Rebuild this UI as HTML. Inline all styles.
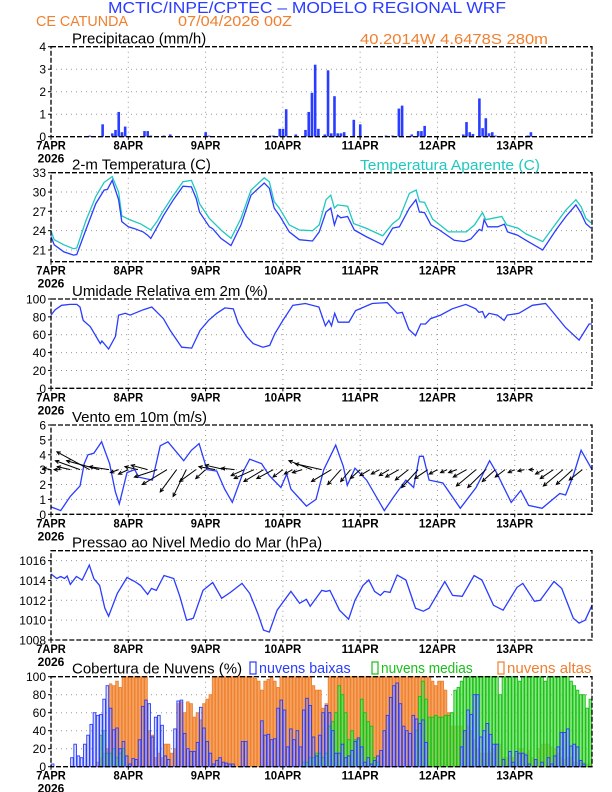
<!DOCTYPE html>
<html><head><meta charset="utf-8">
<style>
html,body{margin:0;padding:0;background:#fff;}
svg{display:block;font-family:"Liberation Sans",sans-serif;}
</style></head>
<body>
<svg id="chart" width="612" height="792" viewBox="0 0 612 792" xmlns="http://www.w3.org/2000/svg">
<text x="108" y="13" font-size="16" fill="#2a3cff" textLength="398" lengthAdjust="spacingAndGlyphs">MCTIC/INPE/CPTEC – MODELO REGIONAL WRF</text>
<text x="36" y="26" font-size="15" fill="#f08030" textLength="92" lengthAdjust="spacingAndGlyphs">CE CATUNDA</text>
<text x="178" y="26" font-size="15" fill="#f08030" textLength="114" lengthAdjust="spacingAndGlyphs">07/04/2026 00Z</text>
<text x="360" y="44" font-size="15" fill="#f08030" textLength="188" lengthAdjust="spacingAndGlyphs">40.2014W 4.6478S 280m</text>
<g id="root"></g>
</svg>
<script>
// ---------- data ----------
const dayLabels = ["7APR","8APR","9APR","10APR","11APR","12APR","13APR"];
const precipHours = [12,13,16,19,20,21,22,23,29,30,31,35,37,48,49,63,68,69,71,72,73,76,79,80,81,82,83,85,86,87,88,89,90,91,94,96,104,106,108,109,112,114,115,116,128,129,130,131,133,134,135,136,137,138,148,149];
const precipValues = [0.05,0.03,0.55,0.15,0.3,1.1,0.2,0.45,0.25,0.25,0.05,0.05,0.1,0.2,0.05,0.05,0.05,0.05,0.35,0.35,1.22,0.1,0.3,1.1,1.95,3.2,0.35,0.1,2.95,0.15,1.8,0.15,0.15,0.2,0.75,0.55,0.05,0.05,1.25,1.38,0.1,0.25,0.25,0.48,0.1,0.65,0.2,0.12,1.7,0.38,0.82,0.15,0.2,0.05,0.05,0.2];
const precipTicks = [0,1,2,3,4];

const tempHours = [0,1,4,7,8,10.8,13.9,16.5,17.5,19,21,22,24,26,28.6,30,31,33,35,38,41,43.6,45.1,46.1,49.2,50.2,52.8,55.9,59,62.1,66.2,67.8,69.3,70.9,74,77.1,81.2,83.3,85.4,86.9,88,89,90,92.1,94.2,97.8,103,106.1,108.2,111.3,113.3,114.4,116,118,120.6,125.2,128.3,130.4,133,133.8,134.5,135.6,138.7,140.8,141.8,144.9,147.5,152.7,156.8,159.9,163,164.6,166.1,167.7];
const tempValues = [23.1,21.8,20.7,20.2,20.3,24.1,28.2,30.3,30.4,31.8,28.8,25.4,24.6,24.3,23.8,23.3,22.8,24.6,26.4,28.8,30.9,30.8,29,26.9,24.6,24.3,22.8,21.7,24.9,29.5,31.4,30.6,27.5,26.4,23.8,22.6,22.4,23.8,26.9,27.5,24.9,26.4,26,26.2,24.1,23.1,21.8,24.4,24.6,27.5,28.8,26.9,26.8,24.9,24.1,22.5,22.3,22.7,24.2,24,25.7,24.6,24.6,25,23.8,23.3,22.5,21,24.1,26.2,28,26.7,25.1,24.4];
const appHours = [0,1,4,7,8,10.8,13.9,16.5,19,21,22,24,28,31,33,35,38,41,43.6,45.1,46.1,49.2,52.8,55.9,59,62.1,66.2,67.8,69.3,70.9,74,77.1,81.2,83.3,85.4,86.9,88,89,92.1,94,97.8,103,106.1,108.2,111.3,113.4,114.4,116,118.5,123.5,129,131.5,134,135,140,141.5,145,147.5,152.7,156.8,159.9,163,164.6,166.1,167.7];
const appValues = [24,22.6,21.8,21.2,21.3,25.5,29.3,31.5,32.4,30,26.3,25.8,25,24.1,25.5,27.2,29.5,31.6,31.8,30,28.2,25.9,24.1,22.8,25.9,30.3,32.2,31.6,28.5,27.5,24.9,24.1,24,24.9,28.8,29.5,27.5,28,27.8,25.1,24.4,23.2,25.1,25.9,29.8,30.3,28.5,28.4,25.8,23.8,23.8,24.9,26.8,25.7,26.2,24.9,24.4,23.5,22.3,25.1,27.2,28.8,27.7,25.9,25.2];
const tempTicks = [21,24,27,30,33];

const rhHours = [0,1.3,3.3,5.9,8,9,10,12.2,15.3,15.8,17.9,20,21,23.1,24.6,28.7,31.3,34.9,37,40.6,43.7,46.3,48.9,51.5,54,56.6,58.1,60.7,62.8,65.8,67.9,69.5,72,75.1,79,83.2,85.2,86.3,87.1,88.1,89.2,92.5,94.6,99.7,104.4,107.5,109.1,111.1,113.2,114.8,116.3,117.9,121,124.6,128.8,131.9,132.9,134,134.8,136,138.6,140.7,141.7,145.3,149.5,153.6,155.7,159.8,164,167.1,168];
const rhValues = [82,88,93,94,94,91,76,69,50,53,44,58,82,84,82,88,91,78,65,46,45,65,76,84,90,89,73,58,50,46,48,61,76,93,95,91,70,76,70,84,74,74,87,95,96,84,85,66,59,72,72,78,82,89,94,89,85,86,79,84,82,76,82,84,93,95,86,68,54,72,72];
const rhTicks = [0,20,40,60,80,100];

const windHours = [0,3,6,9,10.3,11.5,13.3,15.7,18.2,20,21.2,23.6,26,27.2,31.5,33.9,36.3,41.2,43.6,46,48.4,51.5,53.9,56.3,60,61.7,65.4,67.8,71.4,73.2,74.5,79.3,82.3,84.7,88.4,90.8,92,94.4,98,103.5,106.5,110.2,112.6,114.4,115.6,117.4,121.7,127.1,132,136.2,138.6,142.9,145.9,148.3,152.5,158,159.8,162.2,164.6,168];
const windSpeed = [0.5,0.25,1.2,1.9,3.4,4.0,4.1,4.87,3.4,1.5,0.7,2.8,3.0,2.5,2.3,4.6,4.87,3.6,4.3,4.75,3.0,2.9,1.7,0.8,3.0,3.7,3.4,2.6,1.8,2.7,1.7,0.55,1.0,3.0,4.65,3.2,1.95,3.1,2.3,0.25,1.2,2.3,1.8,3.9,3.9,2.3,2.1,0.4,1.8,3.6,2.7,0.8,1.6,0.6,0.4,1.4,1.3,2.6,4.3,3.0];
const vecHours = [0,3,6,9,12,15,18,21,24,27,30,33,36,39,42,45,48,51,54,57,60,63,66,69,72,75,78,81,84,87,90,93,96,99,102,105,108,111,114,117,120,123,126,129,132,135,138,141,144,147,150,153,156,159,162,165];
const vecU = [-0.5,-0.4,-0.8,-1.5,-2,-2,-1.2,-0.5,-0.6,-0.8,-1,-1.4,-1.5,-1,-0.8,-1,-0.6,-1,-1.2,-0.8,-0.8,-1.2,-1.2,-1,-0.6,-0.5,-0.6,-1.4,-1.6,-1.2,-0.8,-0.6,-0.6,-0.6,-0.5,-0.6,-0.8,-0.8,-1,-0.8,-0.5,-0.4,-0.5,-0.8,-1.2,-1.1,-0.8,-0.6,-0.4,-0.4,-0.3,-0.5,-0.8,-1.2,-1,-0.8];
const vecV = [0.1,0,0.2,0.6,1.2,0.6,0.2,-0.2,-0.3,0.2,0.3,-0.5,-1,-1.5,-1.8,-0.8,-0.6,0.2,0.3,0.1,-0.4,-0.6,-0.8,-0.6,-0.5,-0.3,-0.2,0.6,0.4,-0.8,-1,-0.8,-0.6,-0.4,-0.3,-0.4,-0.5,-0.7,-1.2,-0.6,-0.3,-0.2,-0.2,-0.5,-1.1,-1.2,-0.8,-0.5,-0.2,-0.1,0,-0.3,-0.6,-1.1,-1,-0.7];
const windTicks = [0,1,2,3,4,5,6];

const presHours = [0,1.8,3,4.2,5,6,7.9,9.7,11.9,13.3,15.1,16.7,17.9,20.6,23.6,26,27.8,30,31.2,32.7,35.1,38.1,40,42.1,44.2,47.2,50.2,53,55.7,59.3,61.7,64.2,66,67.8,70.2,74.5,77.2,79.3,80.5,84.1,85.4,86.6,89.6,92.4,94.4,96.9,98.7,100.5,102.3,103.5,105.3,107.5,110.2,113.2,115.6,117.4,122.3,124.7,127.7,131.4,133.8,137.4,140.4,144.7,146.5,150.1,151.9,156.2,158.6,162.2,164,165.9,168];
const presValues = [1014.65,1014.2,1014.4,1014.2,1014.45,1013.6,1014.4,1014.05,1015.55,1014.2,1013.5,1011.2,1010.4,1012.7,1014.3,1013.9,1013.5,1012.6,1013.2,1013.0,1014.5,1014.2,1012.4,1010.0,1010.2,1013.0,1013.8,1012.2,1012.8,1013.7,1012.7,1010.7,1009.0,1008.8,1011.0,1012.9,1011.7,1012.1,1011.4,1013.0,1012.9,1013.0,1011.0,1010.1,1012.0,1013.5,1014.05,1012.9,1012.5,1012.9,1012.8,1014.55,1014.05,1011.2,1010.9,1011.2,1013.9,1012.5,1012.4,1014.5,1014.05,1011.5,1011.0,1013.3,1013.7,1011.9,1012.0,1013.9,1013.2,1010.2,1009.7,1010.0,1011.5];
const presTicks = [1008,1010,1012,1014,1016];

const cloudLow = [3,0,0,0,0,0,10,25,12,10,25,35, 47,60,57,58,75,90,65,41,43,20,28,12, 3,9,8,30,67,74,70,33,55,57,46,12, 8,0,42,73,74,37,20,17,17,27,66,43, 28,15,3,7,10,5,4,3,3,0,0,28, 28,0,0,0,0,51,35,36,30,31,65,74, 63,22,42,30,40,22,63,76,68,33,12,35, 60,68,60,40,15,15,25,10,12,18,28,32, 22,5,10,3,7,12,18,40,57,77,90,93, 70,45,40,37,57,53,48,52,27,0,0,0, 0,0,0,0,0,0,0,22,40,63,58,80, 80,33,40,48,36,25,25,0,8,0,17,5, 17,15,15,13,3,0,8,0,5,0,10,3, 12,22,38,38,42,23,25,22,7,3,0,0];
const cloudMid = [0,0,0,0,0,0,0,0,0,0,0,0, 0,0,0,35,40,15,15,20,10,15,20,0, 0,0,0,0,0,0,0,0,0,0,0,0, 0,0,0,0,0,0,0,0,0,0,0,0, 0,0,0,0,0,0,0,0,0,0,0,0, 0,0,0,0,0,0,0,0,0,0,0,0, 0,0,0,0,0,0,5,5,10,10,15,15, 10,15,45,50,60,90,80,60,30,40,30,30, 75,60,50,45,10,5,0,0,0,0,0,0, 0,0,0,0,0,40,78,95,75,55,55,57, 55,55,57,57,60,85,88,95,100,100,100,100, 100,100,100,100,100,100,100,80,100,100,100,100, 100,95,100,100,100,100,100,100,100,95,100,100, 100,100,100,100,100,95,90,85,80,80,65,75];
const cloudHigh = [0,0,0,0,0,0,0,0,0,0,0,0, 0,0,5,10,15,20,92,90,95,88,100,100, 100,100,100,100,100,100,40,35,10,15,10,25, 25,15,20,70,72,60,72,70,55,60,52,70, 75,80,100,100,100,100,100,100,100,100,100,100, 100,100,100,98,95,85,95,97,100,95,88,100, 100,100,100,100,100,100,100,100,100,90,85,85, 65,70,100,100,100,100,100,100,100,100,100,100, 100,100,100,100,100,100,100,100,100,100,100,100, 100,100,100,100,100,100,100,100,100,100,95,90, 95,95,85,60,45,45,45,45,40,45,40,30, 20,15,15,15,15,20,25,25,10,10,12,10, 15,20,20,15,18,10,8,20,25,25,25,22, 20,15,10,8,10,10,5,5,5,5,3,3];
const cloudTicks = [0,20,40,60,80,100];

// ---------- drawing ----------
const NS = "http://www.w3.org/2000/svg";
const root = document.getElementById("root");
const X0 = 51, X1 = 592, HMAX = 168;
function xS(h){ return X0 + h * (X1 - X0) / HMAX; }
function mk(tag, attrs, parent){
  const e = document.createElementNS(NS, tag);
  for (const k in attrs) e.setAttribute(k, attrs[k]);
  (parent || root).appendChild(e);
  return e;
}
function yScale(p){ return v => p.bottom - (v - p.vmin) * (p.bottom - p.top) / (p.vmax - p.vmin); }

function panel(name, top, bottom, vmin, vmax, ticks, title, showYear){
  const p = {top, bottom, vmin, vmax};
  p.y = yScale(p);
  const g = mk("g", {});
  
  
  p.g = g;
  // grid
  for (let d = 1; d < 7; d++){
    const l = mk("line", {x1:xS(d*24), x2:xS(d*24), y1:top, y2:bottom, stroke:"#999", "stroke-width":1, "stroke-dasharray":"1,4"}, g);
    
    
  }
  ticks.forEach(t => {
    const yy = p.y(t);
    if (yy > top + 1 && yy < bottom - 1){
      const l = mk("line", {x1:X0, x2:X1, y1:yy, y2:yy, stroke:"#999", "stroke-width":1, "stroke-dasharray":"1,4"}, g);
      
      
    }
    const tk = mk("line", {x1:X0-3, x2:X0, y1:yy, y2:yy, stroke:"#000"}, g);
    
    
    const tx = mk("text", {x:X0-5, y:yy+4.5, "font-size":12, "text-anchor":"end", fill:"#000"}, g);
    tx.textContent = t;
    
    
  });
  dayLabels.forEach((lab, i) => {
    const tx = mk("text", {x:xS(i*24), y:bottom+13, "font-size":12, "text-anchor":"middle", fill:"#000", "font-weight":"bold", textLength: lab.length*7.4, lengthAdjust:"spacingAndGlyphs"}, g);
    tx.textContent = lab;
    
    
    const tk = mk("line", {x1:xS(i*24), x2:xS(i*24), y1:bottom, y2:bottom+3, stroke:"#000"}, g);
    
    
  });
  if (showYear){
    const yr = mk("text", {x:xS(0), y:bottom+26, "font-size":12, "text-anchor":"middle", "font-weight":"bold", fill:"#000"}, g);
    yr.textContent = "2026";
    
    
  }
  const tt = mk("text", {x:72, y:top-3, "font-size":15, fill:"#000"}, g);
  tt.textContent = title;
  
  
  p.plot = mk("g", {}, g);
  p.frame = () => {
    const r = mk("rect", {x:X0, y:top, width:X1-X0, height:bottom-top, fill:"none", stroke:"#000", "stroke-width":1.3, "stroke-dasharray":"5,2"}, g);
    
    
  };
  return p;
}
function line(p, hours, vals, color, name){
  let d = "";
  hours.forEach((h, i) => { d += (i ? "L" : "M") + xS(h).toFixed(1) + "," + p.y(vals[i]).toFixed(1); });
  const pa = mk("path", {d, fill:"none", stroke:color, "stroke-width":1.3}, p.plot);
  
  
}

// precipitation
const pP = panel("precipitation", 46.7, 136.7, 0, 4, precipTicks, "Precipitacao (mm/h)", true);
precipHours.forEach((h, i) => {
  const y0 = pP.y(precipValues[i]);
  const b = mk("rect", {x:xS(h)-1.2, y:y0, width:2.6, height:pP.bottom-y0, fill:"#2a3cff"}, pP.plot);
  
  
});
pP.frame();

// temperature
const pT = panel("temperature", 172.7, 261.7, 19.18, 33, tempTicks, "2-m Temperatura (C)", true);
line(pT, appHours, appValues, "#20c8c0", "apparent-temperature-line");
line(pT, tempHours, tempValues, "#2a3cff", "temperature-line");
pT.frame();
const at = mk("text", {x:360, y:170, "font-size":15, fill:"#20c8c0", textLength:180, lengthAdjust:"spacingAndGlyphs"});
at.textContent = "Temperatura Aparente (C)";



// humidity
const pR = panel("humidity", 299, 388.3, 0, 100, rhTicks, "Umidade Relativa em 2m (%)", true);
line(pR, rhHours, rhValues, "#2a3cff", "humidity-line");
pR.frame();

// wind
const pW = panel("wind", 425, 514.3, 0, 6, windTicks, "Vento em 10m (m/s)", true);
line(pW, windHours, windSpeed, "#2a3cff", "wind-speed-line");
const unitPx = (pW.bottom - pW.top) / 6;
vecHours.forEach((h, i) => {
  const x1 = xS(h), y1 = pW.y(3);
  const x2 = x1 + vecU[i] * unitPx * 1.1, y2 = y1 - vecV[i] * unitPx;
  const ang = Math.atan2(y2 - y1, x2 - x1);
  const g = mk("g", {}, pW.plot);
  
  
  mk("line", {x1, y1, x2, y2, stroke:"#000", "stroke-width":1}, g);
  const a1 = ang + Math.PI - 0.45, a2 = ang + Math.PI + 0.45;
  mk("path", {d:`M${x2+4*Math.cos(a1)},${y2+4*Math.sin(a1)}L${x2},${y2}L${x2+4*Math.cos(a2)},${y2+4*Math.sin(a2)}`, fill:"none", stroke:"#000", "stroke-width":1}, g);
});
pW.frame();

// pressure
const pPr = panel("pressure", 550.7, 640, 1008, 1017, presTicks, "Pressao ao Nivel Medio do Mar (hPa)", true);
line(pPr, presHours, presValues, "#2a3cff", "pressure-line");
pPr.frame();

// clouds
const pC = panel("clouds", 676.7, 766.7, 0, 100, cloudTicks, "Cobertura de Nuvens (%)", true);
const bw = (X1 - X0) / HMAX;
function bars(vals, fill, stroke, name){
  vals.forEach((v, i) => {
    if (v <= 0) return;
    const y0 = pC.y(v);
    const b = mk("rect", {x:xS(i)+0.3, y:y0, width:bw-0.6, height:pC.bottom-y0, fill, stroke, "stroke-width":0.9}, pC.plot);
    
    
  });
}
bars(cloudHigh, "#f4a460", "#f08030", "high-cloud-bar");
bars(cloudMid, "rgba(100,220,90,0.75)", "#18c018", "mid-cloud-bar");
bars(cloudLow, "rgba(120,140,255,0.3)", "#2a3cff", "low-cloud-bar");
pC.frame();
// legend
const legend = [["nuvens baixas", "#2a3cff", 250], ["nuvens medias", "#18c018", 372], ["nuvens altas", "#f08030", 498]];
legend.forEach(([lab, col, lx]) => {
  const g = mk("g", {});
  
  
  mk("rect", {x:lx, y:662, width:6, height:12, fill:"none", stroke:col, "stroke-width":1.2}, g);
  const t = mk("text", {x:lx+9, y:673, "font-size":15, fill:col, textLength: lab.length*7.05, lengthAdjust:"spacingAndGlyphs"}, g);
  t.textContent = lab;
});
</script>
</body></html>
